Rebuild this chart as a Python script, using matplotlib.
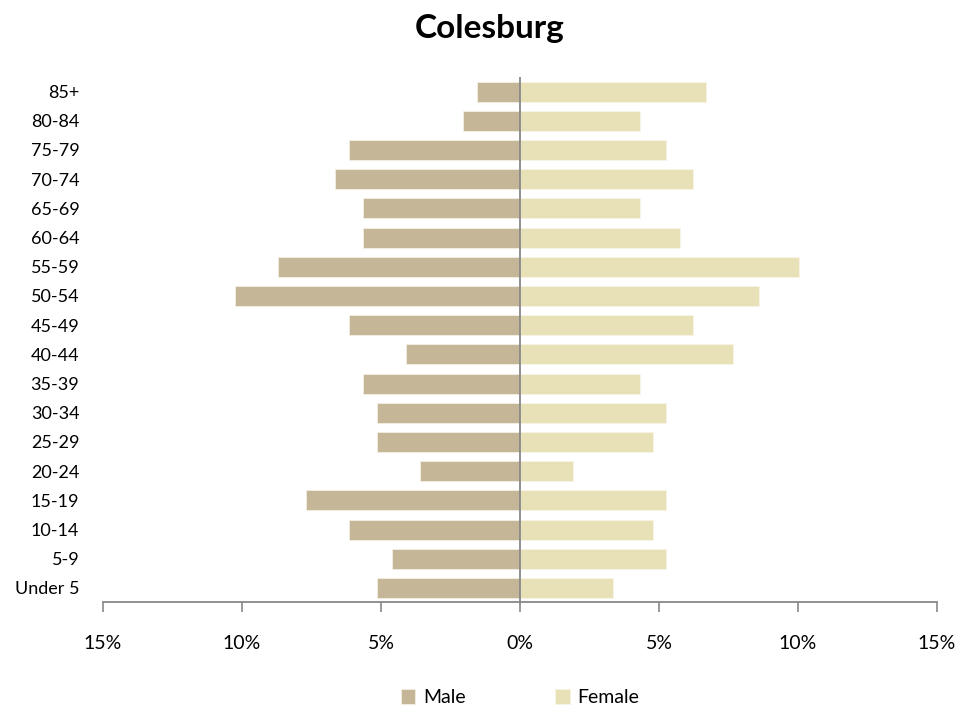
import numpy as np
import matplotlib.pyplot as plt
from matplotlib.ticker import FuncFormatter

plt.rcParams['font.family'] = ['Lato', 'DejaVu Sans']

# age groups, top to bottom
ages = ['85+', '80-84', '75-79', '70-74', '65-69', '60-64', '55-59', '50-54', '45-49',
        '40-44', '35-39', '30-34', '25-29', '20-24', '15-19', '10-14', '5-9', 'Under 5']
# percent of each sex
male = [1.54, 2.05, 6.15, 6.67, 5.64, 5.64, 8.72, 10.26, 6.15,
        4.10, 5.64, 5.13, 5.13, 3.59, 7.69, 6.15, 4.62, 5.13]
female = [6.70, 4.31, 5.26, 6.22, 4.31, 5.74, 10.05, 8.61, 6.22,
          7.66, 4.31, 5.26, 4.78, 1.91, 5.26, 4.78, 5.26, 3.35]
xticks = [-15, -10, -5, 0, 5, 10, 15]

c_male = '#c4b696'
c_female = '#e8e1b8'

fig = plt.figure(figsize=(9.79, 7.13), dpi=100)
ax = fig.add_axes([0.1052, 0.1557, 0.8519, 0.7363])

y = np.arange(len(ages))[::-1]
ax.barh(y, -np.array(male), height=0.69, color=c_male, edgecolor='#f3efe2', linewidth=0.6, label='Male')
ax.barh(y, female, height=0.69, color=c_female, edgecolor='#f7f4e6', linewidth=0.6, label='Female')

ax.axvline(0, color='#888888', lw=1.3)
ax.set_xlim(-15, 15)
ax.set_ylim(-0.48, 17.5)
ax.set_xticks(xticks)
ax.xaxis.set_major_formatter(FuncFormatter(lambda v, p: '%d%%' % abs(v)))
ax.set_yticks(y)
ax.set_yticklabels(ages)

for s in ['top', 'right', 'left']:
    ax.spines[s].set_visible(False)
ax.spines['bottom'].set_color('#888888')
ax.spines['bottom'].set_linewidth(1.3)
ax.tick_params(axis='x', direction='out', length=7, width=1.2, color='#888888', pad=17, labelsize=14)
ax.tick_params(axis='y', length=0, pad=17, labelsize=13)

fig.suptitle('Colesburg', fontsize=24, fontweight='bold', y=0.98)

ax.legend(loc='lower center', bbox_to_anchor=(0.5, -0.232), ncol=2, frameon=False,
          fontsize=14, handlelength=0.75, handleheight=0.75, columnspacing=4.6, handletextpad=0.4)

plt.savefig('out.png', dpi=100)
